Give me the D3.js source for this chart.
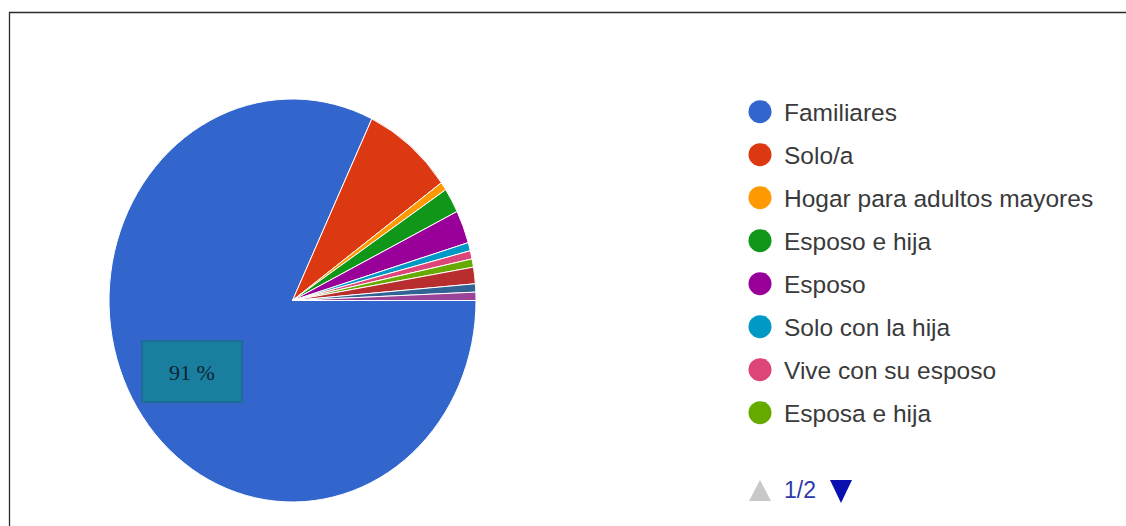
<!DOCTYPE html>
<html>
<head>
<meta charset="utf-8">
<script src="https://cdn.jsdelivr.net/npm/d3@7/dist/d3.min.js"></script>
<style>
  html, body { margin: 0; padding: 0; background: #fff; }
  svg { display: block; }
</style>
</head>
<body>
<svg id="chart" width="1126" height="526"></svg>
<script>
// Living arrangement of respondents (response counts), in legend order
const categories = [
  "Familiares", "Solo/a", "Hogar para adultos mayores", "Esposo e hija",
  "Esposo", "Solo con la hija", "Vive con su esposo", "Esposa e hija",
  "Hijos", "Hermana", "Nietos"
];
const counts = [124, 12, 1, 3, 4, 1, 1, 1, 2, 1, 1];
const colors = [
  "#3366cc", "#dc3912", "#ff9900", "#109618", "#990099", "#0099c6",
  "#dd4477", "#66aa00", "#b82e2e", "#316395", "#994499"
];
// Arrangements that do not involve living with relatives
const notWithFamily = ["Solo/a", "Hogar para adultos mayores"];
const legendPageSize = 8;
const legendPageLabel = "1/2";

const data = categories.map((c, i) => ({ name: c, value: counts[i], color: colors[i] }));
const total = d3.sum(counts);
const familyShare = d3.sum(data.filter(d => !notWithFamily.includes(d.name)), d => d.value) / total;

const svg = d3.select("#chart");
const W = 1126, H = 526;

// frame
svg.append("path")
  .attr("d", `M9.5,${H} L9.5,12.5 L${W},12.5`)
  .attr("fill", "none")
  .attr("stroke", "#2a2a2a")
  .attr("stroke-width", 1.3);

// pie, starting at 3 o'clock and running clockwise
const cx = 292.5, cy = 300.5, rx = 183.5, ry = 201.5;
const pie = d3.pie()
  .sort(null)
  .value(d => d.value)
  .startAngle(Math.PI / 2)
  .endAngle(Math.PI / 2 + 2 * Math.PI);
const arc = d3.arc().innerRadius(0).outerRadius(rx);

const g = svg.append("g")
  .attr("transform", `translate(${cx},${cy}) scale(1,${ry / rx})`);
g.selectAll("path.slice")
  .data(pie(data))
  .join("path")
  .attr("class", "slice")
  .attr("d", arc)
  .attr("fill", d => d.data.color)
  .attr("stroke", "#ffffff")
  .attr("stroke-width", 1)
  .attr("vector-effect", "non-scaling-stroke");

// percentage callout on the main slice
const box = svg.append("g").attr("transform", "translate(142,341)");
box.append("rect")
  .attr("width", 100).attr("height", 61)
  .attr("fill", "#1a7f9e")
  .attr("stroke", "#1c6c96")
  .attr("stroke-width", 2);
box.append("text")
  .attr("x", 50).attr("y", 31)
  .attr("text-anchor", "middle")
  .attr("dominant-baseline", "central")
  .attr("font-family", "'Liberation Serif', 'Times New Roman', serif")
  .attr("font-size", 22)
  .attr("fill", "#0e2433")
  .text(`${Math.round(familyShare * 100)} %`);

// legend (first page)
const legend = svg.append("g").attr("transform", "translate(760,111.7)");
const rowH = 43;
const items = legend.selectAll("g.item")
  .data(data.slice(0, legendPageSize))
  .join("g")
  .attr("class", "item")
  .attr("transform", (d, i) => `translate(0,${i * rowH})`);
items.append("circle")
  .attr("r", 11.5)
  .attr("fill", d => d.color);
items.append("text")
  .attr("x", 24)
  .attr("dy", "0.36em")
  .attr("font-family", "'Liberation Sans', Arial, sans-serif")
  .attr("font-size", 24.5)
  .attr("fill", "#3a3a3a")
  .text(d => d.name);

// legend paging control
const pager = svg.append("g").attr("transform", "translate(760,490)");
pager.append("path")
  .attr("d", "M-11,11 L0,-10 L11,11 Z")
  .attr("fill", "#c8c8c8");
pager.append("text")
  .attr("x", 24)
  .attr("dy", "0.36em")
  .attr("font-family", "'Liberation Sans', Arial, sans-serif")
  .attr("font-size", 23)
  .attr("fill", "#2b3aa8")
  .text(legendPageLabel);
pager.append("path")
  .attr("d", "M70,-10 L92,-10 L81,13 Z")
  .attr("fill", "#0a10b0");
</script>
</body>
</html>
